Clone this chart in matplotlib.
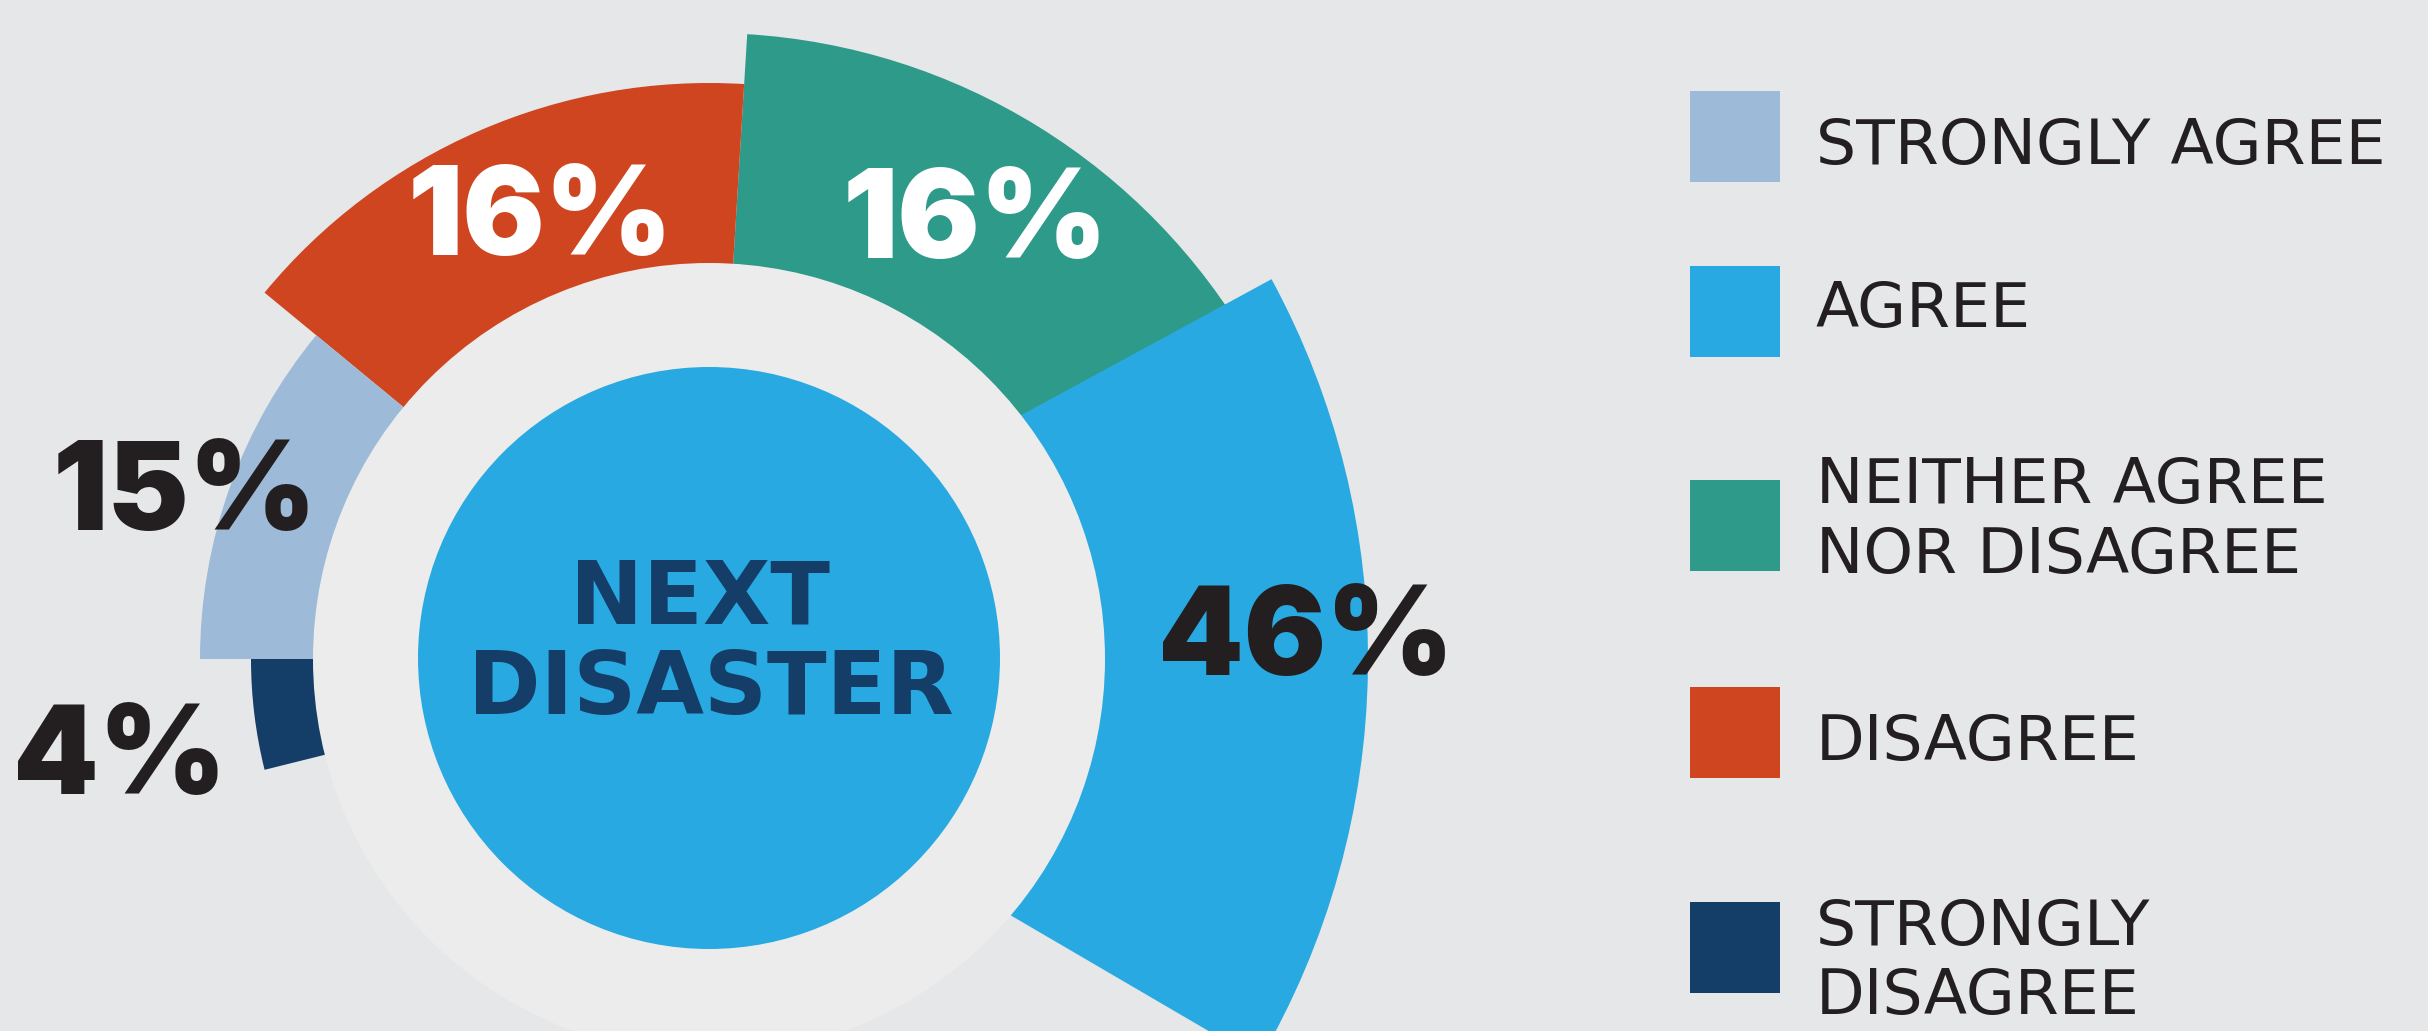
import matplotlib
matplotlib.use("Agg")
import matplotlib.pyplot as plt
from matplotlib.patches import Wedge, Circle, Rectangle

# ---------------------------------------------------------------
# DATA
# ---------------------------------------------------------------
categories = ["STRONGLY AGREE", "AGREE", "NEITHER AGREE\nNOR DISAGREE",
              "DISAGREE", "STRONGLY\nDISAGREE"]
values = [15, 46, 16, 16, 4]
center_title = ["NEXT", "DISASTER"]

# ---------------------------------------------------------------
# STYLE / LAYOUT  (image pixel coordinates, y down)
# ---------------------------------------------------------------
COLORS = ["#9dbbd8", "#29a9e1", "#2e9a8a", "#cf4520", "#143d68"]
BG = "#e6e7e8"
RING = "#ececec"
DARK = "#231f20"
NAVY = "#143d68"

W, H = 2428, 1031
CX, CY = 709, 659          # donut centre
R_HOLE = 396               # light ring outer radius (segments start here)
R_CORE = 291               # centre blue disc

# per segment: (apex x, apex y, outer radius, start angle, end angle) -- angles visual, ccw from east
SEG_GEOM = [
    (CX, CY, 509, 140.5, 180.0),    # strongly agree
    (572, CY, 796, -30.3, 28.5),    # agree (drawn from an offset apex)
    (CX, CY, 626, 30.0, 86.5),      # neither
    (CX, CY, 576, 86.5, 140.5),     # disagree
    (CX, CY, 458, 180.0, 194.0),    # strongly disagree
]
DRAW_ORDER = [2, 3, 0, 4, 1]

# percent labels: (x centre, baseline y, colour)
PCT_POS = [(185, 530, DARK), (1306, 675, DARK), (975, 258, "white"),
           (540, 255, "white"), (120, 794, DARK)]

LEG_BOX_X, LEG_BOX_W, LEG_BOX_H = 1690, 90, 91
LEG_BOX_Y = [91, 266, 480, 687, 902]
LEG_TEXT_X = 1816
LEG_BASELINES = [[164], [327], [503, 573], [760], [945, 1014]]

NUM_FONT = dict(family=["Inter", "DejaVu Sans"], weight="black", size=88)
LEG_FONT = dict(family="DejaVu Sans", size=45.5, color=DARK)


def wedge(cx, cy, r, a1, a2, color):
    # y axis is inverted, so flip the angles
    return Wedge((cx, cy), r, -a2, -a1, facecolor=color, edgecolor="none")


fig = plt.figure(figsize=(W / 100, H / 100), dpi=100, facecolor=BG)
ax = fig.add_axes([0, 0, 1, 1])
ax.set_xlim(0, W)
ax.set_ylim(H, 0)
ax.set_aspect("equal")
ax.axis("off")
ax.set_facecolor(BG)

for i in DRAW_ORDER:
    x0, y0, r, a1, a2 = SEG_GEOM[i]
    ax.add_patch(wedge(x0, y0, r, a1, a2, COLORS[i]))

ax.add_patch(Circle((CX, CY), R_HOLE, facecolor=RING, edgecolor="none"))
ax.add_patch(Circle((CX, CY - 1), R_CORE, facecolor=COLORS[1], edgecolor="none"))

ax.text(700, 624, center_title[0], ha="center", va="baseline", color=NAVY,
        family="DejaVu Sans", weight="bold", size=63)
ax.text(711, 714, center_title[1], ha="center", va="baseline", color=NAVY,
        family="DejaVu Sans", weight="bold", size=63)

for v, (x, y, c) in zip(values, PCT_POS):
    ax.text(x, y, f"{v}%", ha="center", va="baseline", color=c, **NUM_FONT)

# legend
for cat, col, by, bases in zip(categories, COLORS, LEG_BOX_Y, LEG_BASELINES):
    ax.add_patch(Rectangle((LEG_BOX_X, by), LEG_BOX_W, LEG_BOX_H,
                           facecolor=col, edgecolor="none"))
    for line, yb in zip(cat.split("\n"), bases):
        ax.text(LEG_TEXT_X, yb, line, ha="left", va="baseline", **LEG_FONT)

fig.savefig("out.png", dpi=100, facecolor=BG)
